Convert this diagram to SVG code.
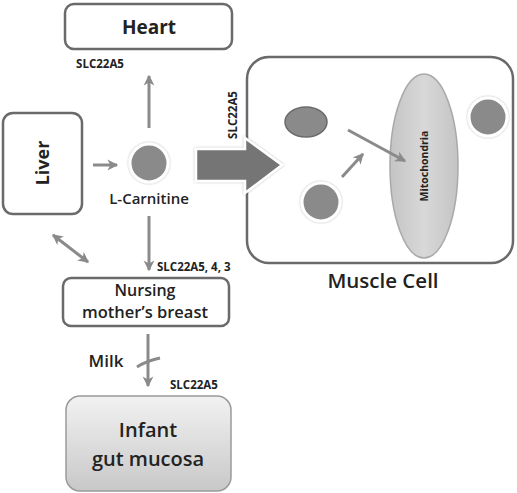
<svg xmlns="http://www.w3.org/2000/svg" width="517" height="493" viewBox="0 0 517 493">
<defs>
<style>
text{font-family:"Open Sans","Liberation Sans",sans-serif;fill:#222;text-anchor:middle}
.box{fill:#fff;stroke:#6a6a6a;stroke-width:2.5}
.lbl{font-size:11.5px;font-weight:700}
.conn{stroke:#8a8a8a;stroke-width:3;fill:none}
.dot{fill:#8a8a8a;stroke:#fff;stroke-width:3}
</style>
<marker id="ah" viewBox="0 0 10 10" refX="8" refY="5" markerWidth="4" markerHeight="4" orient="auto-start-reverse" markerUnits="strokeWidth">
<path d="M0,0.5 L9,5 L0,9.5 L2.5,5 Z" fill="#8a8a8a"/>
</marker>
<linearGradient id="gut" x1="0" y1="0" x2="0" y2="1">
<stop offset="0" stop-color="#f2f2f2"/>
<stop offset="1" stop-color="#c8c8c8"/>
</linearGradient>
<linearGradient id="mito" x1="0" y1="0" x2="1" y2="0">
<stop offset="0" stop-color="#c4c4c4"/>
<stop offset="0.5" stop-color="#d8d8d8"/>
<stop offset="1" stop-color="#c4c4c4"/>
</linearGradient>
<filter id="sh" x="-20%" y="-20%" width="140%" height="140%">
<feDropShadow dx="0" dy="0" stdDeviation="1.2" flood-color="#000" flood-opacity="0.35"/>
</filter>
</defs>

<g id="heart">
<rect class="box" x="65" y="4" width="167" height="45" rx="9"/>
<text x="149" y="34" font-size="19" font-weight="700">Heart</text>
</g>

<g id="liver">
<rect class="box" x="3" y="113" width="79" height="101" rx="10"/>
<text transform="translate(49,163) rotate(-90)" font-size="18" font-weight="700">Liver</text>
</g>

<g id="l-carnitine">
<circle class="dot" cx="149" cy="163" r="19" filter="url(#sh)"/>
<text x="149" y="204" font-size="15" font-weight="600">L-Carnitine</text>
</g>

<g id="muscle-cell">
<rect class="box" x="247" y="57" width="266" height="206" rx="22"/>
<ellipse cx="306" cy="122" rx="21" ry="15" fill="#8a8a8a" stroke="#6a6a6a" stroke-width="1.5"/>
<circle class="dot" cx="321" cy="202" r="19" filter="url(#sh)"/>
<circle class="dot" cx="488" cy="117" r="19" filter="url(#sh)"/>
<text x="383" y="288" font-size="20.5" font-weight="600">Muscle Cell</text>
</g>

<g id="mitochondria">
<ellipse cx="424" cy="166" rx="34" ry="92" fill="url(#mito)" stroke="#a8a8a8" stroke-width="1.5"/>
<text transform="translate(428,166) rotate(-90)" font-size="10.5" font-weight="700">Mitochondria</text>
</g>

<g id="nursing">
<rect class="box" x="63" y="278" width="166" height="48" rx="8"/>
<text x="145" y="296" font-size="16" font-weight="600">Nursing</text>
<text x="145" y="318" font-size="16.5" font-weight="600">mother’s breast</text>
</g>

<g id="infant">
<rect x="66" y="396" width="165" height="95" rx="14" fill="url(#gut)" stroke="#9a9a9a" stroke-width="1.5"/>
<text x="148" y="437" font-size="20" font-weight="600">Infant</text>
<text x="148" y="466" font-size="20" font-weight="600">gut mucosa</text>
</g>

<g id="connectors">
<line class="conn" x1="149" y1="128" x2="149" y2="76" marker-end="url(#ah)"/>
<line class="conn" x1="93" y1="165" x2="117" y2="165" marker-end="url(#ah)"/>
<line class="conn" x1="149" y1="216" x2="149" y2="270" marker-end="url(#ah)"/>
<line class="conn" x1="53" y1="235" x2="88" y2="262" marker-start="url(#ah)" marker-end="url(#ah)"/>
<line class="conn" x1="148" y1="334" x2="148" y2="386" marker-end="url(#ah)"/>
<path class="conn" d="M137,367 Q146,361 160,358"/>
<line class="conn" x1="348" y1="130" x2="405" y2="161" marker-end="url(#ah)"/>
<line class="conn" x1="342" y1="177" x2="363" y2="154" marker-end="url(#ah)"/>
<path d="M196,149 L245,149 L245,138 L282,165 L245,193 L245,181 L196,181 Z" fill="#757575" stroke="#fff" stroke-width="2.5" filter="url(#sh)"/>
</g>

<g id="labels">
<text class="lbl" x="100" y="68">SLC22A5</text>
<text class="lbl" transform="translate(237,115) rotate(-90)">SLC22A5</text>
<text class="lbl" x="157" y="271" font-size="12.5" style="text-anchor:start">SLC22A5, 4, 3</text>
<text class="lbl" x="170" y="389" font-size="12.5" style="text-anchor:start">SLC22A5</text>
<text x="106" y="367" font-size="17" font-weight="600">Milk</text>
</g>
</svg>
